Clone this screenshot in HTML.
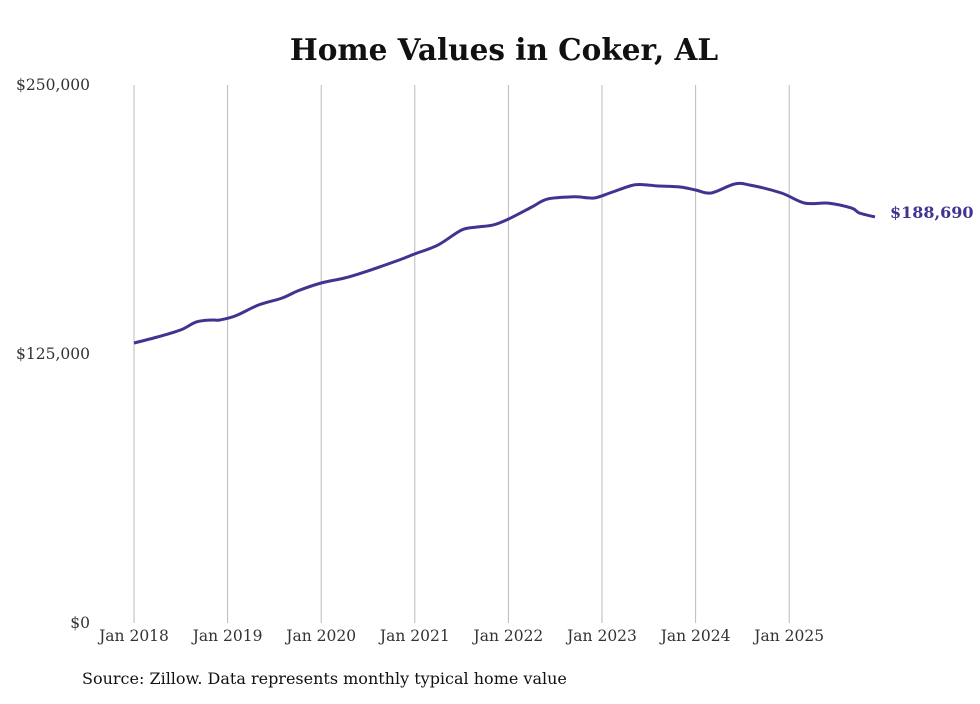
<!DOCTYPE html>
<html><head><meta charset="utf-8"><style>
body{margin:0;background:#fff;}
svg text{font-family:"DejaVu Serif","Liberation Serif",serif;}
</style></head><body>
<svg width="980" height="699">
<text x="504" y="60" text-anchor="middle" font-size="29.5" font-weight="bold" fill="#111">Home Values in Coker, AL</text>
<g id="grid"></g>
<g id="yaxis"></g>
<g id="xaxis"></g>
<path id="line" fill="none" stroke="#3f3590" stroke-width="3" stroke-linejoin="round"/>
<text id="endlabel" font-size="16" font-weight="bold" fill="#3f3590"></text>
<text x="82" y="684" font-size="16" fill="#111">Source: Zillow. Data represents monthly typical home value</text>
</svg>
<script>
const months=[0,3,6,8,10,11,13,16,19,21,24,27,30,34,36,39,42,44,46,48,51,53,56,57,59,61,64,66,67,70,72,74,77,79,83,86,89,92,93,95];
const values=[130100,132900,136200,139900,140800,140800,142700,147800,151000,154300,158000,160300,163600,168700,171500,175700,182600,184000,184900,187700,193300,197000,198000,198000,197500,199800,203500,203500,203100,202600,201200,199800,204000,203500,199800,195100,195100,192800,190500,188690];
const yTicks=[0,125000,250000];
const yTickLabels=["$0","$125,000","$250,000"];
const xYears=[2018,2019,2020,2021,2022,2023,2024,2025];
const x=m=>134+m*(93.6/12);
const y=v=>623-v/250000*538;
const NS="http://www.w3.org/2000/svg";
function mk(tag,attrs,parent,txt){const e=document.createElementNS(NS,tag);for(const k in attrs)e.setAttribute(k,attrs[k]);if(txt!==undefined)e.textContent=txt;parent.appendChild(e);return e;}
const grid=document.getElementById('grid'),xa=document.getElementById('xaxis'),ya=document.getElementById('yaxis');
xYears.forEach((yr,i)=>{
  const xx=x(i*12);
  const l=mk('line',{x1:xx,x2:xx,y1:85,y2:623,stroke:'#bbb','stroke-width':1},grid);
  
  
  const t=mk('text',{x:xx,y:641,'text-anchor':'middle','font-size':15.5,fill:'#333'},xa,'Jan '+yr);
  
  
});
yTicks.forEach((v,i)=>{
  const t=mk('text',{x:90,y:y(v)+5,'text-anchor':'end','font-size':15.5,fill:'#333'},ya,yTickLabels[i]);
  
  
});
const P=months.map((m,i)=>[x(m),y(values[i])]);
let d='M'+P[0][0].toFixed(1)+','+P[0][1].toFixed(1);
for(let i=0;i<P.length-1;i++){
  const p0=P[Math.max(0,i-1)],p1=P[i],p2=P[i+1],p3=P[Math.min(P.length-1,i+2)];
  const c1=[p1[0]+(p2[0]-p0[0])/6,p1[1]+(p2[1]-p0[1])/6];
  const c2=[p2[0]-(p3[0]-p1[0])/6,p2[1]-(p3[1]-p1[1])/6];
  d+='C'+c1.map(n=>n.toFixed(1)).join(',')+' '+c2.map(n=>n.toFixed(1)).join(',')+' '+p2.map(n=>n.toFixed(1)).join(',');
}
document.getElementById('line').setAttribute('d',d);
const lv=values[values.length-1],lm=months[months.length-1];
const el=document.getElementById('endlabel');
el.setAttribute('x',x(lm)+15);el.setAttribute('y',y(lv)+1);
el.textContent='$'+lv.toLocaleString('en-US');
</script>
</body></html>
